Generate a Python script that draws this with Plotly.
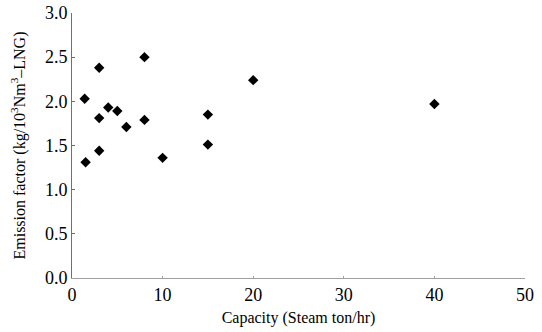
import plotly.graph_objects as go

capacity = [1.4, 1.5, 3, 3, 3, 4, 5, 6, 8, 8, 10, 15, 15, 20, 40]
emission = [2.03, 1.31, 2.38, 1.81, 1.44, 1.93, 1.89, 1.71, 2.50, 1.79, 1.36, 1.85, 1.51, 2.24, 1.97]

x_ticks = [0, 10, 20, 30, 40, 50]
y_ticks = [0.0, 0.5, 1.0, 1.5, 2.0, 2.5, 3.0]
y_tick_text = ["0.0", "0.5", "1.0", "1.5", "2.0", "2.5", "3.0"]

font_family = "Liberation Serif, Times New Roman, serif"

fig = go.Figure()
fig.add_trace(go.Scatter(
    x=capacity, y=emission, mode="markers",
    marker=dict(symbol="diamond", size=8, color="black", line=dict(width=0)),
    showlegend=False,
))

fig.update_layout(
    width=542, height=332,
    margin=dict(l=72, r=17, t=13, b=54, autoexpand=False),
    paper_bgcolor="white", plot_bgcolor="white",
    font=dict(family=font_family, color="black", size=17),
    xaxis=dict(
        range=[0, 50], tickvals=x_ticks, ticktext=[str(v) for v in x_ticks],
        showgrid=False, zeroline=False, automargin=False,
        showline=True, linecolor="#a0a0a0", linewidth=1,
        ticks="inside", ticklen=2, tickcolor="#a0a0a0",
        tickfont=dict(size=18, family=font_family),
        title=dict(text="Capacity (Steam ton/hr)", font=dict(size=16, family=font_family), standoff=8),
    ),
    yaxis=dict(
        range=[0, 3.0], tickvals=y_ticks, ticktext=y_tick_text,
        showgrid=False, zeroline=False, automargin=False,
        showline=True, linecolor="#707070", linewidth=1,
        ticks="inside", ticklen=3, tickcolor="#707070",
        tickfont=dict(size=18, family=font_family),
        title=dict(text="Emission factor (kg/10<sup>3</sup>Nm<sup>3</sup>\u2013LNG)", font=dict(size=16, family=font_family)),
    ),
)

fig.write_html("out.html", config={"displayModeBar": False},
               post_script="document.body.style.margin='0';document.body.style.overflow='hidden';")
